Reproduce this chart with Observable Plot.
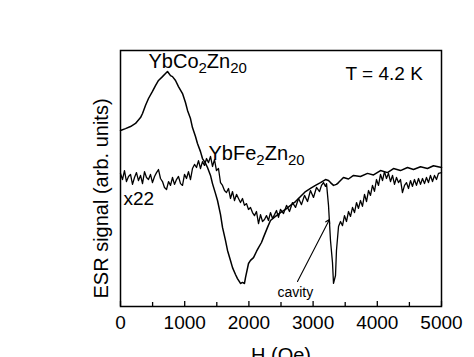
<!DOCTYPE html>
<html>
<head>
<meta charset="utf-8">
<script src="https://cdn.jsdelivr.net/npm/d3@7"></script>
<script src="https://cdn.jsdelivr.net/npm/@observablehq/plot@0.6"></script>
<style>
  html, body { margin: 0; padding: 0; background: white; overflow: hidden; }
</style>
</head>
<body>
<div id="chart"></div>
<script>
// ---- data (H in Oe, ESR signal in arbitrary units) ----
const coH = [0,78,156,234,312,343,389,436,498,545,592,654,701,732,779,810,857,903,966,1012,1044,1090,1121,1168,1199,1246,1277,1324,1355,1402,1433,1480,1511,1558,1589,1635,1667,1713,1745,1791,1822,1869,1900,1931,1947,1994,2025,2072,2118,2150,2196,2227,2290,2336,2414,2492,2570,2648,2726,2804,2882,2959,3037,3115,3193,3240,3271,3318,3364,3396,3473,3551,3629,3738,3847,3941,4050,4159,4252,4361,4470,4564,4673,4782,4875,5000];
const coS = [68.75,69.5,70.3,71.5,73.8,75.4,78.5,81.25,84.0,86.3,88.3,89.8,91.0,91.8,90.2,89.8,88.3,85.9,83.2,79.7,76.6,73.4,69.9,66.4,63.7,60.5,57.8,55.9,54.3,51.2,48.0,44.1,41.4,35.9,30.9,25.8,21.9,18.0,15.2,12.5,10.9,9.0,9.4,9.0,11.3,16.8,18.0,19.1,21.5,23.0,25.0,27.0,30.9,33.6,35.2,36.7,37.9,39.5,41.0,43.0,44.9,46.1,47.3,48.4,49.6,49.2,48.4,47.3,47.7,48.4,50.4,49.8,51.2,50.8,52.0,51.4,53.1,52.3,53.9,53.1,54.3,53.5,54.6,53.9,55.0,54.3];

const feH = [0,31,62,93,125,156,187,218,249,280,312,343,374,405,436,467,498,530,561,592,623,654,685,717,748,779,810,841,872,903,935,966,997,1028,1059,1090,1121,1153,1184,1215,1246,1277,1308,1340,1371,1402,1433,1464,1495,1526,1558,1589,1620,1651,1682,1713,1745,1776,1807,1838,1869,1900,1931,1963,1994,2025,2056,2087,2118,2150,2181,2212,2243,2274,2305,2336,2368,2399,2430,2461,2492,
  2539,2586,2632,2679,2726,2773,2819,2866,2913,2959,3006,3053,3100,
  3131,3162,3193,3209,3240,3271,3302,3318,3349,3364,3396,
  3427,3458,3489,3520,3551,3583,3614,3645,3676,3707,3738,3769,3801,3832,3863,3894,3925,3956,3987,4019,4050,4081,4112,4143,4174,4206,4237,4268,4299,4330,4361,4392,4424,4455,4486,4517,4548,4579,4610,4642,4673,4704,4735,4766,4797,4828,4860,4891,4922,4953,5000];
const feS = [52.0,49.6,53.1,48.8,50.8,51.6,47.7,50.4,52.3,49.2,51.2,48.0,52.7,50.4,49.6,51.6,48.4,50.8,52.3,53.5,50.0,48.8,46.5,45.7,48.8,47.3,50.4,47.7,49.6,50.8,48.0,47.3,51.6,50.0,52.7,49.6,53.9,55.5,54.3,57.0,53.9,56.6,55.1,57.8,56.2,58.6,54.7,57.4,53.1,53.9,48.4,47.3,45.3,44.5,46.1,42.2,44.9,41.4,43.8,42.2,40.6,42.2,39.5,40.2,37.9,38.7,36.7,35.5,37.1,32.4,35.9,33.2,34.0,35.5,33.6,36.7,34.4,35.9,37.5,34.8,37.9,
  36.3,39.5,37.1,40.6,38.7,42.2,39.8,43.4,41.0,45.3,42.6,46.5,44.9,
  47.3,48.4,46.9,48.0,39.5,25.8,17.2,9.0,12.1,21.9,31.25,
  33.2,31.6,35.5,33.2,37.1,35.2,38.7,36.7,40.6,38.3,41.4,39.1,43.8,41.0,45.3,43.4,47.3,45.0,49.6,47.3,51.6,49.2,52.7,50.0,52.0,48.8,51.2,47.7,50.4,48.4,49.6,44.5,47.3,48.4,46.1,49.2,46.9,49.6,47.3,50.0,47.7,50.0,48.0,50.4,48.4,51.2,48.8,51.2,49.6,52.0,52.3];

const majorTicks = [0, 1000, 2000, 3000, 4000, 5000];
const minorTicks = [500, 1500, 2500, 3500, 4500];

const chemLabels = ["YbCo2Zn20", "YbFe2Zn20"];
const chemH = [436, 1371];
const chemS = [93.0, 57.4];

const noteLabels = ["T = 4.2 K", "x22"];
const noteH = [3505, 47];
const noteS = [88.3, 39.5];

const cavityLabel = "cavity";
const cavityH = 2445;
const cavityS = 3.9;
const arrowFrom = [2757, 9.8];
const arrowTo = [3255, 34.0];

const xLabel = "H (Oe)";
const yLabel = "ESR signal (arb. units)";

// ---- tables ----
const co = coH.map((h, i) => ({h, s: coS[i]}));
const fe = feH.map((h, i) => ({h, s: feS[i]}));
const chem = chemLabels.map((t, i) => ({t, h: chemH[i], s: chemS[i]}));
const notes = noteLabels.map((t, i) => ({t, h: noteH[i], s: noteS[i]}));

const font = "'Liberation Sans', Arial, Helvetica, sans-serif";

const chart = Plot.plot({
  width: 474,
  height: 357,
  marginTop: 50,
  marginRight: 33,
  marginBottom: 51,
  marginLeft: 120,
  x: {domain: [0, 5000], axis: null},
  y: {domain: [0, 100], axis: null},
  style: {fontFamily: font, fontSize: "19px", background: "white", color: "black", overflow: "visible"},
  marks: [
    Plot.axisX(majorTicks, {tickSize: -5, tickFormat: () => "", label: null, strokeWidth: 1.3}),
    Plot.axisX(minorTicks, {tickSize: -4, tickFormat: () => "", label: null, strokeWidth: 1.3}),
    Plot.axisX(majorTicks, {tickSize: 0, tickPadding: 9, label: null, fontSize: 19, tickFormat: d => String(d)}),
    Plot.line(co, {x: "h", y: "s", stroke: "black", strokeWidth: 1.5}),
    Plot.line(fe, {x: "h", y: "s", stroke: "black", strokeWidth: 1.3}),
    Plot.arrow([{x1: arrowFrom[0], y1: arrowFrom[1], x2: arrowTo[0], y2: arrowTo[1]}],
      {x1: "x1", y1: "y1", x2: "x2", y2: "y2", stroke: "black", strokeWidth: 1.1, headLength: 6}),
    Plot.text(chem, {x: "h", y: "s", text: "t", textAnchor: "start", lineAnchor: "bottom", fontSize: 20, fill: "black"}),
    Plot.text(notes, {x: "h", y: "s", text: "t", textAnchor: "start", lineAnchor: "bottom", fontSize: 19, fill: "black"}),
    Plot.text([cavityLabel], {x: () => cavityH, y: () => cavityS, text: d => d, textAnchor: "start", lineAnchor: "bottom", fontSize: 14, fill: "black"}),
    Plot.text([xLabel], {frameAnchor: "bottom", textAnchor: "middle", lineAnchor: "top", dy: 41, fontSize: 20, fill: "black"}),
    Plot.text([yLabel], {frameAnchor: "left", textAnchor: "middle", lineAnchor: "middle", rotate: -90, dx: -19, dy: 20, fontSize: 20, fill: "black"}),
    Plot.frame({stroke: "black", strokeWidth: 1.5})
  ]
});

// subscripts in chemical formulas
d3.select(chart).selectAll("text").each(function() {
  const el = this;
  const txt = el.textContent;
  if (!chemLabels.includes(txt)) return;
  while (el.firstChild) el.removeChild(el.firstChild);
  const parts = txt.split(/(\d+)/).filter(p => p.length);
  let lowered = false;
  parts.forEach(p => {
    const ts = document.createElementNS("http://www.w3.org/2000/svg", "tspan");
    ts.textContent = p;
    if (/^\d+$/.test(p)) {
      ts.setAttribute("font-size", "15");
      if (!lowered) { ts.setAttribute("dy", "5"); lowered = true; }
    } else if (lowered) {
      ts.setAttribute("dy", "-5");
      lowered = false;
    }
    el.appendChild(ts);
  });
});

document.getElementById("chart").appendChild(chart);
</script>
</body>
</html>
